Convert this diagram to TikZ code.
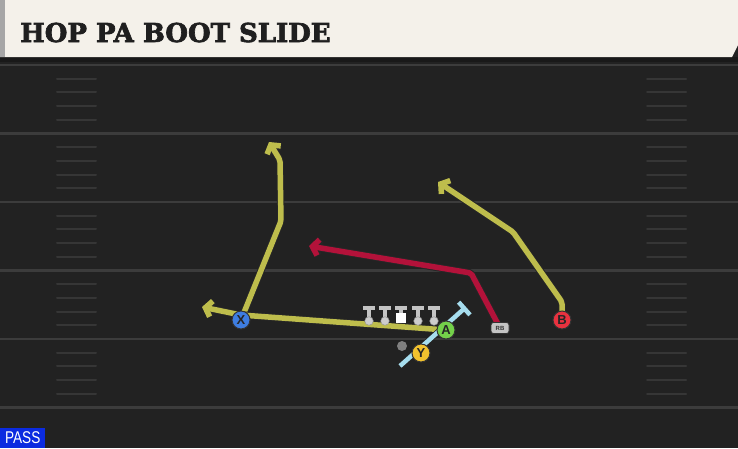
\documentclass[tikz,border=0pt]{standalone}
\usepackage{fontspec}
\setmainfont{Liberation Sans}
\newfontfamily\titlefont[FakeBold=2.5]{DejaVu Serif}
\usepackage{tikz}
\usetikzlibrary{arrows.meta,positioning}
\pgfdeclarelayer{field}
\pgfdeclarelayer{routes}
\pgfsetlayers{field,routes,main}
\definecolor{bannercream}{HTML}{F4F1EA}
\definecolor{fieldbg}{HTML}{222222}
\definecolor{yardline}{HTML}{3C3C3C}
\definecolor{hashline}{HTML}{363636}
\definecolor{routeyellow}{HTML}{BEBD4C}
\definecolor{routered}{HTML}{B3123A}
\definecolor{blockblue}{HTML}{A6DDEE}
\definecolor{xblue}{HTML}{3E7DE0}
\definecolor{agreen}{HTML}{74D14A}
\definecolor{yyellow}{HTML}{F2C22E}
\definecolor{bred}{HTML}{E8323F}
\definecolor{olgrey}{HTML}{C4C4C4}
\definecolor{passblue}{HTML}{0B2BE0}
\tikzset{
  yard line/.style={draw=yardline, line width=2.4pt},
  hash/.style={draw=hashline, line width=2pt, line cap=round},
  player/.style={circle, draw=black!80, line width=1pt, minimum size=18pt,
    inner sep=0pt, text=black!85, font=\bfseries\fontsize{13}{13}\selectfont},
  route/.style={draw=#1, line width=5.5pt, line join=round, rounded corners=2pt,
    -{Straight Barb[length=6pt,width=16pt]},
    preaction={draw=black!85, line width=7.5pt, -{Straight Barb[length=6pt,width=16pt]}}},
  block/.style={draw=blockblue, line width=4.5pt, -{Bar[width=17pt]},
    preaction={draw=black!85, line width=6pt, -{Bar[width=18pt]}}},
  lineman/.style={draw=olgrey, line width=3.2pt},
  lineman foot/.style={circle, fill=olgrey!85, draw=black!40, line width=0.5pt,
    minimum size=8.5pt, inner sep=0pt},
  center foot/.style={rectangle, fill=white, minimum size=10pt, inner sep=0pt},
  rb box/.style={rectangle, rounded corners=2.5pt, fill=olgrey, draw=black!80,
    line width=0.8pt, minimum width=18pt, minimum height=11pt, inner sep=0pt,
    text=black!80, font=\bfseries\fontsize{6}{6}\selectfont},
}
\begin{document}
\begin{tikzpicture}[x=1pt,y=-1pt]
  \useasboundingbox (0,0) rectangle (738,448);
  % field
  \begin{pgfonlayer}{field}
    \fill[fieldbg] (0,0) rectangle (738,448);
    \fill[black!90] (0,57) rectangle (738,62);
    \foreach \y in {65,133.5,202,270.5,339,407.5}
      \draw[yard line] (0,\y) -- (738,\y);
    \foreach \y in {65,133.5,202,270.5,339}
      \foreach \k in {1,...,4} {
        \draw[hash] (57,{\y+13.7*\k}) -- (96,{\y+13.7*\k});
        \draw[hash] (647,{\y+13.7*\k}) -- (686,{\y+13.7*\k});
      }
  \end{pgfonlayer}
  % banner
  \fill[bannercream] (0,0) -- (738,0) -- (738,45) -- (732,57) -- (0,57) -- cycle;
  \fill[black!35] (0,0) rectangle (5,57);
  \node[anchor=base west, text=black!88, inner sep=0pt,
    font=\titlefont\bfseries\fontsize{26}{26}\selectfont] (title) at (20,42) {HOP PA BOOT SLIDE};
  % players
  \node[player, fill=xblue] (X) at (241,320) {X};
  \node[player, fill=agreen] (A) at (446,330) {A};
  \node[player, fill=yyellow] (Y) at (421,353) {Y};
  \node[player, fill=bred] (B) at (562,320) {B};
  \node[rb box] (RB) at (500,328) {RB};
  \node[circle, fill=black!50, minimum size=10pt, inner sep=0pt] (qb) at (402,346) {};
  % line
  \foreach \x [count=\i] in {369,385,401,418,434}
    \draw[lineman] (\x-6,308) -- (\x+6,308) (\x,308) -- (\x,319);
  \foreach \x [count=\i] in {369,385,418,434}
    \node[lineman foot] (ol\i) at (\x,321) {};
  \node[center foot] (oc) at (401,318) {};
  % routes
  \coordinate (x1) at (281,221);
  \coordinate (x2) at (280,160);
  \coordinate (xtip) at (269,142);
  \coordinate (a1) at (241,315);
  \coordinate (atip) at (202,307);
  \coordinate (r1) at (471,273);
  \coordinate (rtip) at (309,246);
  \coordinate (b1) at (562,302);
  \coordinate (b2) at (513,232);
  \coordinate (btip) at (438,182);
  \coordinate (k0) at (400,366);
  \coordinate (k1) at (466,307);
  \begin{pgfonlayer}{routes}
    \draw[route=routeyellow] (X.center) -- (x1) -- (x2) -- (xtip);
    \draw[route=routeyellow] (A.center) -- (a1) -- (atip);
    \draw[route=routered] (RB.center) -- (r1) -- (rtip);
    \draw[route=routeyellow] (B.center) -- (b1) -- (b2) -- (btip);
    \draw[block] (k0) -- (k1);
  \end{pgfonlayer}
  % play type
  \node[fill=passblue, text=white, anchor=south west, minimum width=45pt,
    minimum height=20pt, inner sep=0pt, font=\fontsize{17}{17}\selectfont] (pass) at (0,448)
    {\scalebox{0.8}[1]{PASS}};
\end{tikzpicture}
\end{document}
